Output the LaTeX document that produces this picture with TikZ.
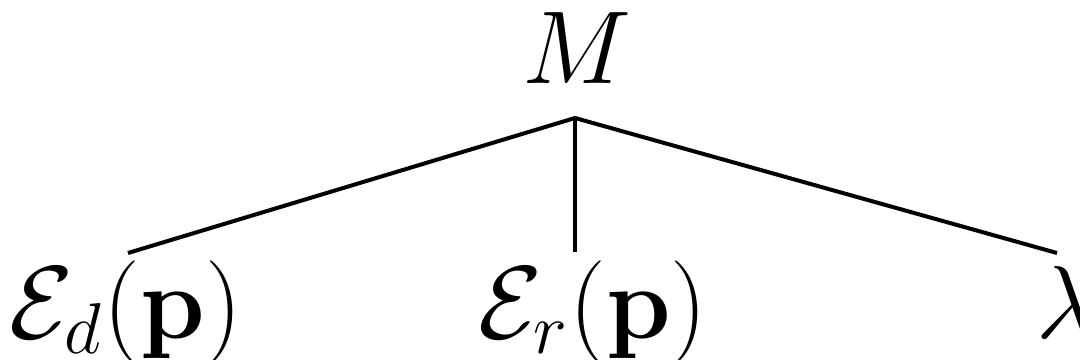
\documentclass[tikz,border=0pt]{standalone}
\usepackage{amsmath}
\tikzset{
  lbl/.style={anchor=base, inner sep=0pt, font=\huge},
  edge/.style={line width=0.8pt, line cap=butt}
}
\begin{document}
\begin{tikzpicture}[x=0.2pt,y=-0.2pt]
\useasboundingbox (0,0) rectangle (1080,360);
\node[lbl] (M) at (577,83) {$M$};
\node[lbl] (Ed) at (126,338) {$\mathcal{E}_d(\mathbf{p})$};
\node[lbl] (Er) at (593,338) {$\mathcal{E}_r(\mathbf{p})$};
\node[lbl] (L) at (1066,338) {$\lambda$};
\coordinate (apex) at (575,118);
\coordinate (ed) at (128,253);
\coordinate (er) at (575,252);
\coordinate (l) at (1057,253);
\draw[edge] (ed) -- (apex) -- (l);
\draw[edge] (apex) -- (er);
\end{tikzpicture}
\end{document}
